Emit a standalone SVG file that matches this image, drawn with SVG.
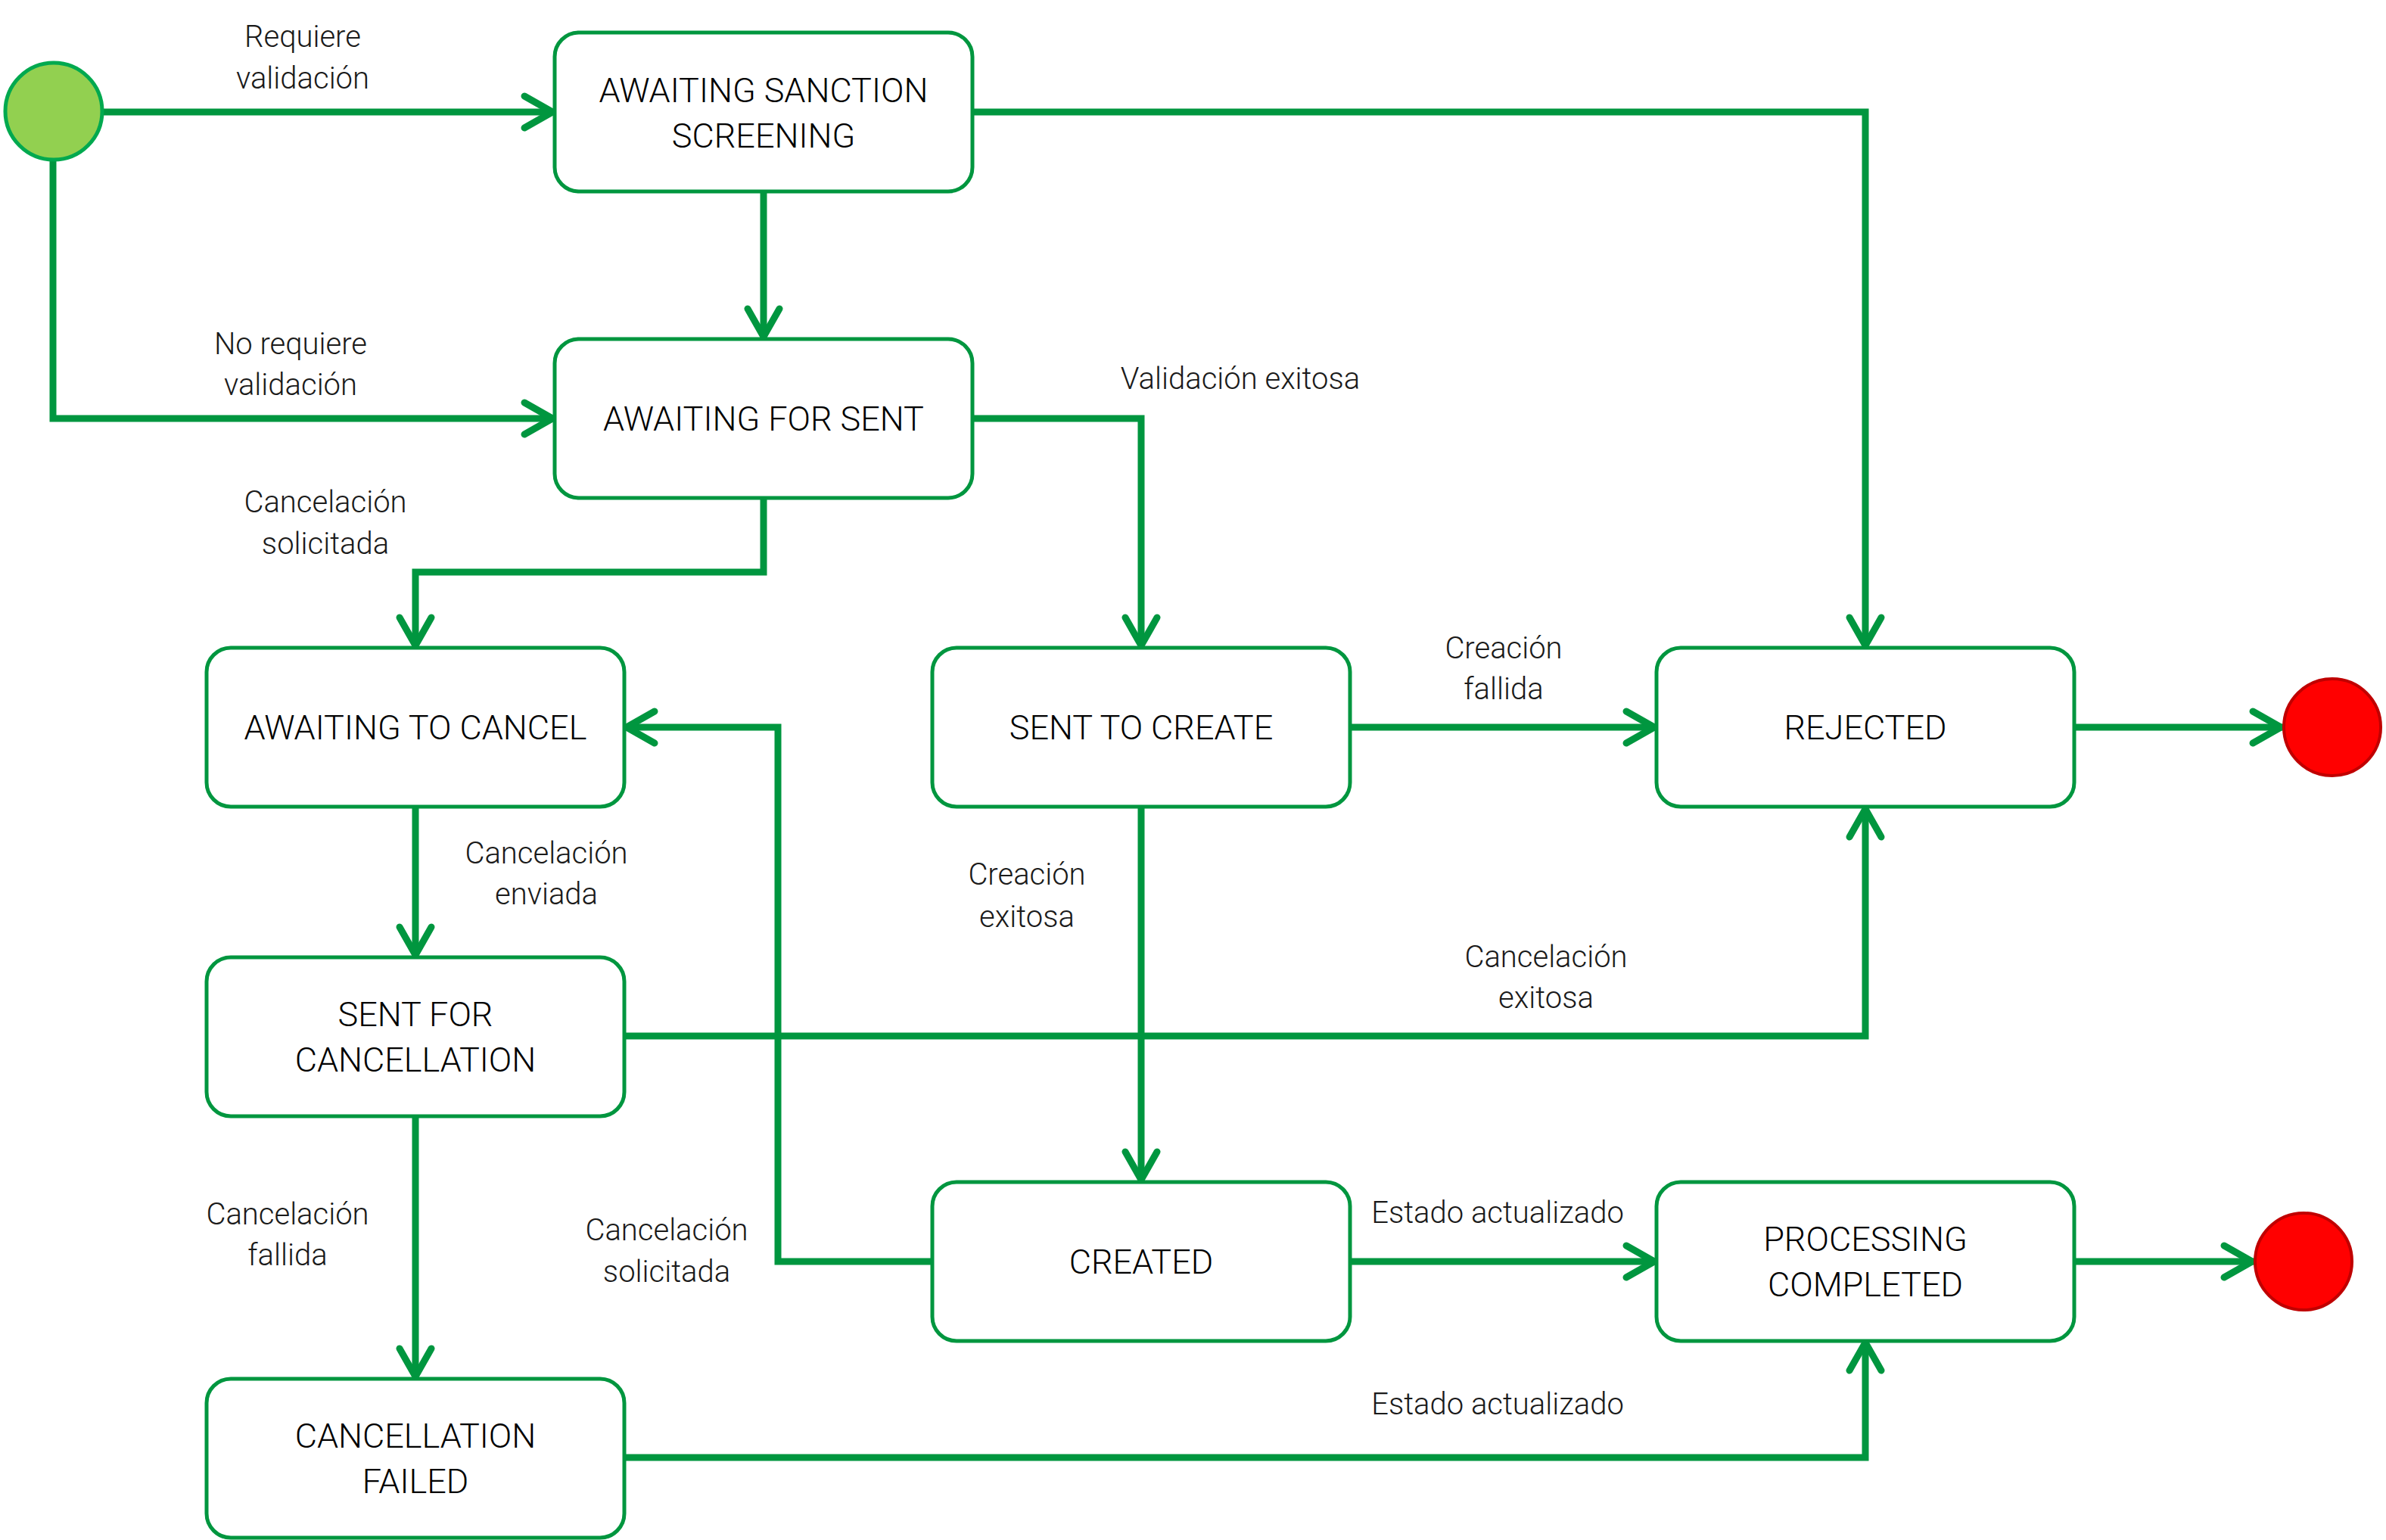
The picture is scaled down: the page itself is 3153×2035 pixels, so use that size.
<svg xmlns="http://www.w3.org/2000/svg" width="3153" height="2035" viewBox="0 0 3153 2035">
<style>
.box{fill:#ffffff;stroke:#00963F;stroke-width:5}
.conn{fill:none;stroke:#00963F;stroke-width:9;stroke-linejoin:miter}
.bt{font-family:Roboto,"Liberation Sans",sans-serif;font-weight:300;font-size:45px;fill:#000;text-anchor:middle}
.lb{font-family:Roboto,"Liberation Sans",sans-serif;font-weight:300;font-size:40px;fill:#1a1a1a;text-anchor:middle}
</style>
<defs>
<marker id="arr" markerUnits="userSpaceOnUse" viewBox="-50 -30 60 60" refX="0" refY="0" markerWidth="60" markerHeight="60" orient="auto">
<path d="M-40,-21 L-3,0 L-40,21" fill="none" stroke="#00963F" stroke-width="9" stroke-linecap="round" stroke-linejoin="round"/>
</marker>
</defs>
<rect width="3153" height="2035" fill="#ffffff"/>
<g id="connectors">
<path class="conn" d="M136,148 L733,148" marker-end="url(#arr)"/>
<path class="conn" d="M70,213 L70,553 L733,553" marker-end="url(#arr)"/>
<path class="conn" d="M1009,253 L1009,448" marker-end="url(#arr)"/>
<path class="conn" d="M1285,148 L2465,148 L2465,856" marker-end="url(#arr)"/>
<path class="conn" d="M1285,553 L1508,553 L1508,856" marker-end="url(#arr)"/>
<path class="conn" d="M1009,658 L1009,756 L549,756 L549,856" marker-end="url(#arr)"/>
<path class="conn" d="M1784,961 L2189,961" marker-end="url(#arr)"/>
<path class="conn" d="M2741,961 L3017,961" marker-end="url(#arr)"/>
<path class="conn" d="M549,1066 L549,1265" marker-end="url(#arr)"/>
<path class="conn" d="M1508,1066 L1508,1562" marker-end="url(#arr)"/>
<path class="conn" d="M825,1369 L2465,1369 L2465,1066" marker-end="url(#arr)"/>
<path class="conn" d="M1232,1667 L1028,1667 L1028,961 L825,961" marker-end="url(#arr)"/>
<path class="conn" d="M549,1474 L549,1822" marker-end="url(#arr)"/>
<path class="conn" d="M1784,1667 L2189,1667" marker-end="url(#arr)"/>
<path class="conn" d="M2741,1667 L2979,1667" marker-end="url(#arr)"/>
<path class="conn" d="M825,1926 L2465,1926 L2465,1771" marker-end="url(#arr)"/>
</g>
<g id="labels">
<text class="lb" x="400" y="62">Requiere</text>
<text class="lb" x="400" y="117">validación</text>
<text class="lb" x="384" y="468">No requiere</text>
<text class="lb" x="384" y="522">validación</text>
<text class="lb" x="1639" y="514">Validación exitosa</text>
<text class="lb" x="430" y="677">Cancelación</text>
<text class="lb" x="430" y="732">solicitada</text>
<text class="lb" x="1987" y="870">Creación</text>
<text class="lb" x="1987" y="924">fallida</text>
<text class="lb" x="722" y="1141">Cancelación</text>
<text class="lb" x="722" y="1195">enviada</text>
<text class="lb" x="1357" y="1169">Creación</text>
<text class="lb" x="1357" y="1225">exitosa</text>
<text class="lb" x="2043" y="1278">Cancelación</text>
<text class="lb" x="2043" y="1332">exitosa</text>
<text class="lb" x="380" y="1618">Cancelación</text>
<text class="lb" x="380" y="1672">fallida</text>
<text class="lb" x="881" y="1639">Cancelación</text>
<text class="lb" x="881" y="1694">solicitada</text>
<text class="lb" x="1979" y="1616">Estado actualizado</text>
<text class="lb" x="1979" y="1869">Estado actualizado</text>
</g>
<g id="start"><circle cx="71" cy="147" r="64" fill="#92D050" stroke="#00A94F" stroke-width="5"/></g>
<g id="end1"><circle cx="3082" cy="961" r="64" fill="#FF0000" stroke="#C00000" stroke-width="4"/></g>
<g id="end2"><circle cx="3044" cy="1667" r="64" fill="#FF0000" stroke="#C00000" stroke-width="4"/></g>
<g id="awaiting-sanction-screening">
<rect class="box" x="733" y="43" width="552" height="210" rx="32"/>
<text class="bt" x="1009" y="135">AWAITING SANCTION</text>
<text class="bt" x="1009" y="195">SCREENING</text>
</g>
<g id="awaiting-for-sent">
<rect class="box" x="733" y="448" width="552" height="210" rx="32"/>
<text class="bt" x="1009" y="569">AWAITING FOR SENT</text>
</g>
<g id="awaiting-to-cancel">
<rect class="box" x="273" y="856" width="552" height="210" rx="32"/>
<text class="bt" x="549" y="977">AWAITING TO CANCEL</text>
</g>
<g id="sent-to-create">
<rect class="box" x="1232" y="856" width="552" height="210" rx="32"/>
<text class="bt" x="1508" y="977">SENT TO CREATE</text>
</g>
<g id="rejected">
<rect class="box" x="2189" y="856" width="552" height="210" rx="32"/>
<text class="bt" x="2465" y="977">REJECTED</text>
</g>
<g id="sent-for-cancellation">
<rect class="box" x="273" y="1265" width="552" height="210" rx="32"/>
<text class="bt" x="549" y="1356">SENT FOR</text>
<text class="bt" x="549" y="1416">CANCELLATION</text>
</g>
<g id="created">
<rect class="box" x="1232" y="1562" width="552" height="210" rx="32"/>
<text class="bt" x="1508" y="1683">CREATED</text>
</g>
<g id="processing-completed">
<rect class="box" x="2189" y="1562" width="552" height="210" rx="32"/>
<text class="bt" x="2465" y="1653">PROCESSING</text>
<text class="bt" x="2465" y="1713">COMPLETED</text>
</g>
<g id="cancellation-failed">
<rect class="box" x="273" y="1822" width="552" height="210" rx="32"/>
<text class="bt" x="549" y="1913">CANCELLATION</text>
<text class="bt" x="549" y="1973">FAILED</text>
</g>
</svg>
